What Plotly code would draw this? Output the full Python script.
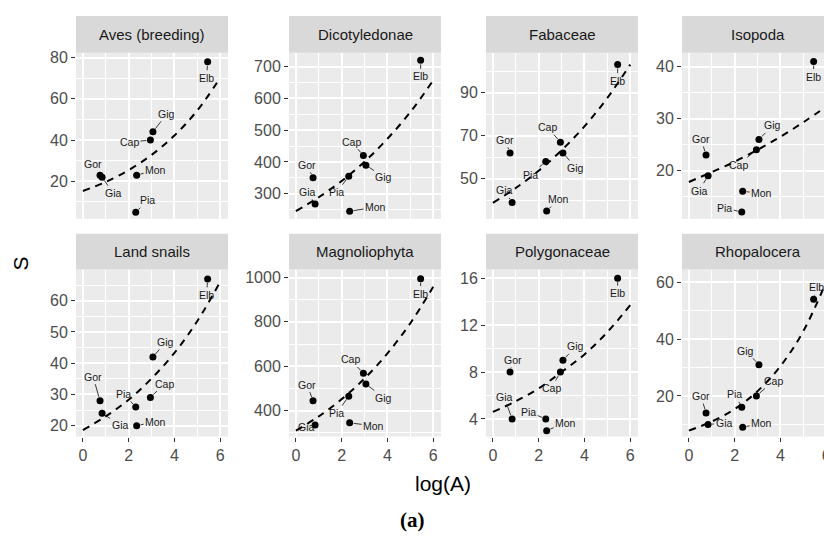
import plotly.graph_objects as go

# ---------------- data ----------------
islands = ["Elb", "Gig", "Cap", "Mon", "Pia", "Gia", "Gor"]
log_area = [5.45, 3.06, 2.95, 2.35, 2.31, 0.84, 0.75]

taxa = ["Aves (breeding)", "Dicotyledonae", "Fabaceae", "Isopoda",
        "Land snails", "Magnoliophyta", "Polygonaceae", "Rhopalocera"]

S_aves = [78, 44, 40, 23, 5, 22, 23]
S_dicot = [720, 390, 420, 245, 355, 268, 350]
S_fabaceae = [103, 62, 67, 35, 58, 39, 62]
S_isopoda = [41, 26, 24, 16, 12, 19, 23]
S_snails = [67, 42, 29, 20, 26, 24, 28]
S_magnolio = [995, 520, 568, 345, 465, 335, 445]
S_polygon = [16, 9, 8, 3, 4, 4, 8]
S_rhopal = [54, 31, 20, 9, 16, 10, 14]

# fitted curve at log(A) = 0..6
fit_x = [0, 1, 2, 3, 4, 5, 6]
fit_aves = [15.3, 19.7, 25.4, 32.8, 42.2, 54.4, 70.2]
fit_dicot = [245, 289, 340, 401, 473, 557, 657]
fit_fabaceae = [38.8, 45.7, 53.7, 63.2, 74.3, 87.5, 103]
fit_isopoda = [17.8, 19.7, 21.7, 24.0, 26.5, 29.3, 32.3]
fit_snails = [18.6, 23.0, 28.3, 35.1, 43.3, 53.5, 66.1]
fit_magnolio = [310, 374, 452, 545, 658, 794, 958]
fit_polygon = [4.6, 5.5, 6.6, 8.0, 9.5, 11.4, 13.7]
fit_rhopal = [7.8, 11.0, 15.4, 21.7, 30.5, 42.8, 60.2]

x_ticks = [0, 2, 4, 6]
yt_aves = [20, 40, 60, 80]
yt_dicot = [300, 400, 500, 600, 700]
yt_fabaceae = [50, 70, 90]
yt_isopoda = [20, 30, 40]
yt_snails = [20, 30, 40, 50, 60]
yt_magnolio = [400, 600, 800, 1000]
yt_polygon = [4, 8, 12, 16]
yt_rhopal = [20, 40, 60]

S_all = [S_aves, S_dicot, S_fabaceae, S_isopoda, S_snails, S_magnolio, S_polygon, S_rhopal]
fit_all = [fit_aves, fit_dicot, fit_fabaceae, fit_isopoda, fit_snails, fit_magnolio, fit_polygon, fit_rhopal]
yt_all = [yt_aves, yt_dicot, yt_fabaceae, yt_isopoda, yt_snails, yt_magnolio, yt_polygon, yt_rhopal]

# ---------------- layout geometry (pixels) ----------------
W, H = 840, 547
col_px = [(76, 228), (289, 441), (486, 638), (682, 834)]
row_px = [(50, 217), (268, 436)]
strip_px = [(13, 50), (232, 268)]
x_range = [-0.3, 6.34]
y_ranges = [[1.8, 82.4], [221, 744], [31.4, 108.5], [10.7, 42.7],
            [16.5, 70.0], [283, 1036], [2.49, 16.74], [5.7, 64.5]]
# label offsets in pixels (dx, dy) per panel in island order
label_off = [
    [(-1, 16), (14, -18), (-21, 2), (19, -5), (12, -12), (11, 16), (-7, -11)],
    [(0, 16), (18, 12), (-12, -14), (26, -4), (-12, 16), (-8, -12), (-6, -13)],
    [(0, 16), (13, 15), (-13, -15), (12, -12), (-15, 13), (-8, -12), (-5, -13)],
    [(0, 15), (14, -14), (-18, 15), (19, 2), (-17, -4), (-9, 15), (-5, -16)],
    [(-1, 16), (13, -15), (14, -14), (19, -4), (-12, -13), (18, 12), (-7, -24)],
    [(0, 15), (18, 14), (-13, -14), (24, 3), (-12, 17), (-9, 2), (-6, -16)],
    [(0, 15), (13, -14), (-9, 16), (19, -8), (-17, -7), (-8, -22), (3, -12)],
    [(3, -12), (-13, -14), (17, -15), (19, -4), (-7, -13), (16, -1), (-5, -17)],
]

FONT = "Liberation Sans, Arial, sans-serif"

def fx(px):
    return px / W

def fy(py):
    return 1 - py / H

fig = go.Figure()
layout = {}
annotations = []
shapes = []

for i, taxon in enumerate(taxa):
    r, c = divmod(i, 4)
    n = i + 1
    xa = "x" if n == 1 else f"x{n}"
    ya = "y" if n == 1 else f"y{n}"
    xkey = "xaxis" if n == 1 else f"xaxis{n}"
    ykey = "yaxis" if n == 1 else f"yaxis{n}"

    fig.add_trace(go.Scatter(
        x=fit_x, y=fit_all[i], mode="lines", line=dict(color="black", width=2, dash="7px,6px", shape="spline"),
        xaxis=xa, yaxis=ya, showlegend=False, hoverinfo="skip"))
    fig.add_trace(go.Scatter(
        x=log_area, y=S_all[i], mode="markers", marker=dict(color="black", size=7),
        text=islands, xaxis=xa, yaxis=ya, showlegend=False))

    bottom = r == 1
    layout[xkey] = dict(
        domain=[fx(col_px[c][0]), fx(col_px[c][1])], anchor=ya, range=x_range,
        tickmode="array", tickvals=x_ticks, showticklabels=bottom,
        ticks="outside" if bottom else "", ticklen=4, tickwidth=1.2, tickcolor="#333333",
        tickfont=dict(family=FONT, size=16, color="#4D4D4D"),
        showgrid=True, gridcolor="white", gridwidth=1.6, zeroline=False, showline=False,
        minor=dict(tickmode="linear", tick0=1, dtick=2, showgrid=True, gridcolor="white", gridwidth=0.8, ticks=""),
        fixedrange=True)
    yt = yt_all[i]
    step = yt[1] - yt[0]
    layout[ykey] = dict(
        domain=[fy(row_px[r][1]), fy(row_px[r][0])], anchor=xa, range=y_ranges[i],
        tickmode="array", tickvals=yt, ticks="outside", ticklen=4, tickwidth=1.2, tickcolor="#333333",
        tickfont=dict(family=FONT, size=16, color="#4D4D4D"),
        showgrid=True, gridcolor="white", gridwidth=1.6, zeroline=False, showline=False,
        minor=dict(tickmode="linear", tick0=0, dtick=step / 2, showgrid=True, gridcolor="white", gridwidth=0.8, ticks=""),
        fixedrange=True)

    # strip
    shapes.append(dict(type="rect", xref="paper", yref="paper",
                       x0=fx(col_px[c][0]), x1=fx(col_px[c][1]),
                       y0=fy(strip_px[r][1]), y1=fy(strip_px[r][0]),
                       fillcolor="#D9D9D9", line=dict(width=0), layer="below"))
    annotations.append(dict(text=taxon, xref="paper", yref="paper",
                            x=fx((col_px[c][0] + col_px[c][1]) / 2),
                            y=fy((strip_px[r][0] + strip_px[r][1]) / 2),
                            showarrow=False, xanchor="center", yanchor="middle",
                            font=dict(family=FONT, size=15, color="#1A1A1A")))

    # point labels
    for j, isl in enumerate(islands):
        dx, dy = label_off[i][j]
        annotations.append(dict(text=isl, x=log_area[j], y=S_all[i][j], xref=xa, yref=ya,
                                ax=dx, ay=dy, axref="pixel", ayref="pixel",
                                showarrow=True, arrowhead=0, arrowwidth=0.9, arrowcolor="#222222",
                                standoff=4, startstandoff=0,
                                font=dict(family=FONT, size=10.5, color="#1A1A1A")))

annotations.append(dict(text="S", xref="paper", yref="paper", x=fx(21), y=fy(262),
                        showarrow=False, textangle=-90, xanchor="center", yanchor="middle",
                        font=dict(family=FONT, size=21, color="black")))
annotations.append(dict(text="log(A)", xref="paper", yref="paper", x=fx(443), y=fy(483),
                        showarrow=False, xanchor="center", yanchor="middle",
                        font=dict(family=FONT, size=21, color="black")))
annotations.append(dict(text="<b>(a)</b>", xref="paper", yref="paper", x=fx(412), y=fy(520),
                        showarrow=False, xanchor="center", yanchor="middle",
                        font=dict(family="Liberation Serif, Times New Roman, serif", size=21, color="black")))

fig.update_layout(
    width=W, height=H, margin=dict(l=0, r=0, t=0, b=0),
    paper_bgcolor="white", plot_bgcolor="#EBEBEB",
    annotations=annotations, shapes=shapes, showlegend=False,
    **layout)

fig.write_html("out.html", config={"displayModeBar": False},
               post_script="document.body.style.margin='0';document.body.style.overflow='hidden';")
